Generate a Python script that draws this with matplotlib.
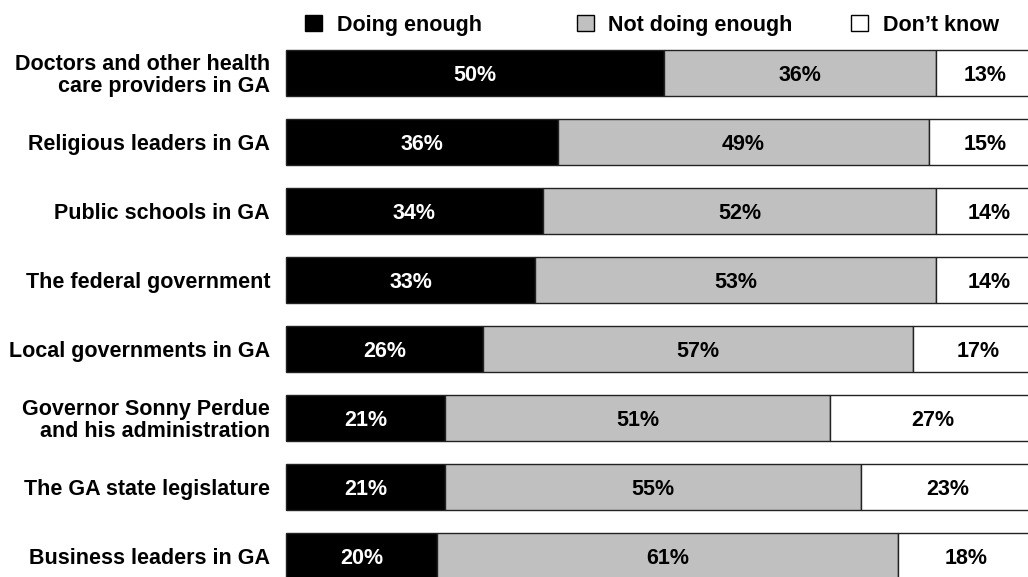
import matplotlib
matplotlib.use("Agg")
import matplotlib.pyplot as plt
from matplotlib.patches import Rectangle

categories = [
    "Doctors and other health\ncare providers in GA",
    "Religious leaders in GA",
    "Public schools in GA",
    "The federal government",
    "Local governments in GA",
    "Governor Sonny Perdue\nand his administration",
    "The GA state legislature",
    "Business leaders in GA",
]
doing_enough = [50, 36, 34, 33, 26, 21, 21, 20]
not_doing_enough = [36, 49, 52, 53, 57, 51, 55, 61]
dont_know = [13, 15, 14, 14, 17, 27, 23, 18]
series_names = ["Doing enough", "Not doing enough", "Don\u2019t know"]
colors = ["#000000", "#c0c0c0", "#ffffff"]
text_colors = ["white", "black", "black"]

plt.rcParams['font.family'] = ['Liberation Sans', 'DejaVu Sans']
FS = 15.5
cap_half_pt = 0.716 * FS / 2

W, H = 1028, 577
fig = plt.figure(figsize=(W / 100, H / 100), dpi=100)


def fx(px):
    return px / W


def fy(py):
    return 1 - py / H


left_px = 286
px_per_unit = 7.56
ax = fig.add_axes([fx(left_px), 0, 100 * px_per_unit / W, 1])
ax.set_xlim(0, 100)
y0_px, dy_px = 73, 69
ax.set_ylim((H - y0_px) / dy_px, -y0_px / dy_px)
ax.axis('off')

ys = list(range(len(categories)))
lefts = [0] * len(categories)
for vals, c, tc in zip([doing_enough, not_doing_enough, dont_know], colors, text_colors):
    ax.barh(ys, vals, left=lefts, height=0.67, color=c, edgecolor='#222222',
            linewidth=1.0, clip_on=False)
    for y, l, v in zip(ys, lefts, vals):
        ax.annotate(f"{v}%", (l + v / 2, y), xytext=(0, -cap_half_pt),
                    textcoords='offset points', ha='center', va='baseline',
                    color=tc, fontsize=FS, fontweight='bold',
                    annotation_clip=False)
    lefts = [l + v for l, v in zip(lefts, vals)]

line_gap = 22
cap_half_px = cap_half_pt * 100 / 72
for y, cat in zip(ys, categories):
    lines = cat.split("\n")
    n = len(lines)
    cy = y0_px + y * dy_px
    for i, ln in enumerate(lines):
        ly = cy + (i - (n - 1) / 2) * line_gap
        fig.text(fx(270), fy(ly + cap_half_px), ln, ha='right', va='baseline',
                 fontsize=FS, fontweight='bold')

# legend
leg_box = [305, 577, 851]
leg_txt = [337, 608, 883]
for x, tx, name, c in zip(leg_box, leg_txt, series_names, colors):
    fig.patches.append(Rectangle((fx(x), fy(31)), 17 / W, 16 / H,
                                 transform=fig.transFigure, facecolor=c,
                                 edgecolor='black', linewidth=1.0))
    fig.text(fx(tx), fy(31), name, ha='left', va='baseline',
             fontsize=FS, fontweight='bold')

fig.savefig("out.png", dpi=100)
